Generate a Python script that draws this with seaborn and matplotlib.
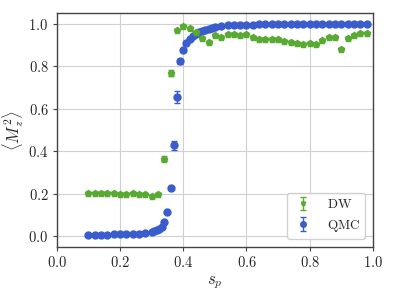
import numpy as np
import matplotlib
matplotlib.use("Agg")
import matplotlib.pyplot as plt
import seaborn as sns

# DW (D-Wave) data
dw_s = [0.10, 0.12, 0.14, 0.16, 0.18, 0.20, 0.22, 0.24, 0.26, 0.28,
        0.30, 0.32, 0.34, 0.36, 0.38, 0.40, 0.42, 0.44, 0.46, 0.48,
        0.50, 0.52, 0.54, 0.56, 0.58, 0.60, 0.62, 0.64, 0.66, 0.68,
        0.70, 0.72, 0.74, 0.76, 0.78, 0.80, 0.82, 0.84, 0.86, 0.88,
        0.90, 0.92, 0.94, 0.96, 0.98]
dw_m = [0.205, 0.204, 0.204, 0.203, 0.202, 0.201, 0.201, 0.202, 0.201, 0.200,
        0.190, 0.199, 0.364, 0.769, 0.972, 0.990, 0.981, 0.960, 0.932, 0.914,
        0.947, 0.937, 0.950, 0.950, 0.947, 0.950, 0.937, 0.928, 0.928, 0.928,
        0.927, 0.917, 0.913, 0.909, 0.902, 0.908, 0.905, 0.922, 0.936, 0.936,
        0.881, 0.933, 0.947, 0.956, 0.956]
dw_err = [0.004] * 12 + [0.012, 0.015] + [0.004] * 31

# QMC data
qmc_s = [0.10, 0.12, 0.14, 0.16, 0.18, 0.20, 0.22, 0.24, 0.26, 0.28,
         0.300, 0.308, 0.316, 0.324, 0.332, 0.34, 0.35, 0.36, 0.37, 0.38,
         0.39, 0.40, 0.41, 0.42, 0.43, 0.44, 0.45, 0.46, 0.47, 0.48,
         0.49, 0.50, 0.52, 0.54, 0.56, 0.58, 0.60, 0.62, 0.64, 0.66,
         0.68, 0.70, 0.72, 0.74, 0.76, 0.78, 0.80, 0.82, 0.84, 0.86,
         0.88, 0.90, 0.92, 0.94, 0.96, 0.98]
qmc_m = [0.007, 0.007, 0.008, 0.008, 0.009, 0.009, 0.010, 0.011, 0.012, 0.013,
         0.019, 0.023, 0.028, 0.034, 0.043, 0.065, 0.115, 0.226, 0.428, 0.656,
         0.822, 0.877, 0.911, 0.930, 0.943, 0.952, 0.960, 0.966, 0.972, 0.977,
         0.981, 0.985, 0.990, 0.993, 0.995, 0.996, 0.996, 0.996, 0.997, 0.997,
         0.997, 0.997, 0.997, 0.997, 0.997, 0.997, 0.997, 0.997, 0.997, 0.997,
         0.997, 0.997, 0.997, 0.997, 0.997, 0.997]
qmc_err = [0.002] * 17 + [0.008, 0.02, 0.027, 0.012] + [0.003] * 35

xticks = [0.0, 0.2, 0.4, 0.6, 0.8, 1.0]
yticks = [0.0, 0.2, 0.4, 0.6, 0.8, 1.0]

sns.set_style("whitegrid", {"axes.edgecolor": "#444444", "grid.color": "#d0d0d0"})
plt.rcParams["mathtext.fontset"] = "cm"
plt.rcParams["font.family"] = ["DejaVu Serif"]

fig, ax = plt.subplots(figsize=(3.95, 2.96), dpi=100)
fig.subplots_adjust(left=0.144, right=0.944, top=0.956, bottom=0.166)

green = "#58aa32"
blue = "#3a5ccc"

ax.errorbar(dw_s, dw_m, yerr=dw_err, fmt="p", color=green, ms=4.5,
            elinewidth=1, capsize=2, label=r"$\mathrm{DW}$", zorder=3)
ax.errorbar(qmc_s, qmc_m, yerr=qmc_err, fmt="o", color=blue, ms=5,
            elinewidth=1, capsize=2, label=r"$\mathrm{QMC}$", zorder=2)

ax.set_xlim(0, 1)
ax.set_ylim(-0.05, 1.05)
ax.set_xticks(xticks)
ax.set_yticks(yticks)
ax.set_xticklabels([f"${v:.1f}$" for v in xticks], fontsize=10.5)
ax.set_yticklabels([f"${v:.1f}$" for v in yticks], fontsize=10.5)
ax.tick_params(axis="both", length=3, pad=3, color="#444444", bottom=True, left=True)
ax.set_xlabel(r"$s_p$", fontsize=12, labelpad=3)
ax.set_ylabel(r"$\langle M_z^2\rangle$", fontsize=12, labelpad=2)
for sp in ax.spines.values():
    sp.set_linewidth(1.0)

ax.legend(loc="lower right", fontsize=9.5, frameon=True, framealpha=0.9,
          borderpad=0.4, handletextpad=1.0, handlelength=1.6, markerscale=0.8,
          borderaxespad=0.6)

fig.savefig("out.png", dpi=100)
